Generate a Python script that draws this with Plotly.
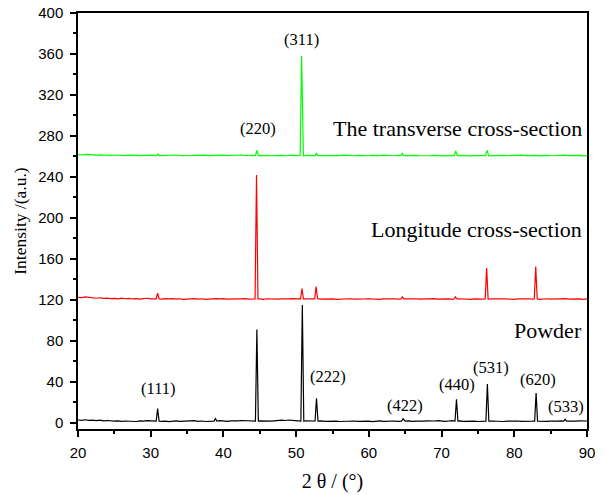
import plotly.graph_objects as go

# ---- data ----
two_theta = [20.0, 20.5, 21.0, 21.5, 22.0, 22.5, 23.0, 23.5, 24.0, 24.5,
             25.0, 25.5, 26.0, 26.5, 27.0, 27.5, 28.0, 28.5, 29.0, 29.5,
             30.0, 30.5, 31.0, 31.5, 32.0, 32.5, 33.0, 33.5, 34.0, 34.5,
             35.0, 35.5, 36.0, 36.5, 37.0, 37.5, 38.0, 38.5, 39.0, 39.5,
             40.0, 40.5, 41.0, 41.5, 42.0, 42.5, 43.0, 43.5, 44.0, 44.5,
             45.0, 45.5, 46.0, 46.5, 47.0, 47.5, 48.0, 48.5, 49.0, 49.5,
             50.0, 50.5, 51.0, 51.5, 52.0, 52.5, 53.0, 53.5, 54.0, 54.5,
             55.0, 55.5, 56.0, 56.5, 57.0, 57.5, 58.0, 58.5, 59.0, 59.5,
             60.0, 60.5, 61.0, 61.5, 62.0, 62.5, 63.0, 63.5, 64.0, 64.5,
             65.0, 65.5, 66.0, 66.5, 67.0, 67.5, 68.0, 68.5, 69.0, 69.5,
             70.0, 70.5, 71.0, 71.5, 72.0, 72.5, 73.0, 73.5, 74.0, 74.5,
             75.0, 75.5, 76.0, 76.5, 77.0, 77.5, 78.0, 78.5, 79.0, 79.5,
             80.0, 80.5, 81.0, 81.5, 82.0, 82.5, 83.0, 83.5, 84.0, 84.5,
             85.0, 85.5, 86.0, 86.5, 87.0, 87.5, 88.0, 88.5, 89.0, 89.5,
             90.0]

powder_bg = [2.8, 2.5, 3.0, 2.4, 2.7, 2.2, 2.6, 2.0, 2.3, 1.9,
             1.6, 2.0, 1.4, 1.8, 1.5, 1.7, 1.3, 1.9, 1.6, 2.2,
             1.8, 1.5, 1.9, 1.4, 1.7, 1.2, 1.6, 1.9, 1.5, 1.8,
             1.4, 1.7, 2.1, 1.5, 1.8, 1.3, 1.6, 2.0, 2.4, 2.2,
             1.8, 1.5, 1.9, 1.6, 2.0, 2.3, 2.1, 2.6, 2.2, 2.5,
             2.0, 1.8, 2.2, 1.7, 2.0, 2.4, 2.6, 2.3, 2.8, 2.4,
             2.2, 2.0, 2.5, 1.9, 2.2, 1.8, 1.6, 2.0, 1.5, 1.8,
             1.4, 1.7, 1.3, 1.6, 1.2, 1.5, 1.8, 1.4, 1.7, 1.3,
             1.6, 1.2, 1.5, 1.9, 1.4, 1.7, 1.3, 1.8, 1.5, 2.0,
             1.6, 1.9, 1.4, 1.7, 1.3, 1.6, 1.9, 1.5, 1.8, 2.1,
             1.7, 1.4, 1.8, 2.2, 1.6, 1.9, 1.5, 1.8, 1.4, 1.7,
             1.3, 1.6, 1.9, 1.5, 1.8, 1.4, 1.7, 1.3, 1.6, 1.9,
             1.5, 1.8, 1.4, 1.7, 2.0, 1.6, 1.9, 1.5, 1.8, 1.4,
             1.7, 1.3, 1.6, 1.9, 1.5, 1.8, 1.4, 1.7, 2.0, 1.6,
             1.8]

longitude_bg = [122.6, 122.2, 122.9, 122.3, 122.0, 121.6, 122.1, 121.4, 121.8, 121.2,
                121.5, 121.0, 121.7, 121.1, 121.4, 120.9, 121.3, 120.8, 121.2, 121.6,
                121.0, 121.4, 121.1, 120.7, 121.2, 120.9, 121.3, 120.8, 121.1, 120.6,
                121.0, 120.7, 121.2, 120.8, 121.1, 120.6, 121.0, 120.7, 121.2, 120.9,
                121.3, 120.8, 121.1, 120.7, 121.0, 120.9, 121.3, 120.8, 121.2, 120.7,
                121.0, 120.6, 121.1, 120.8, 121.2, 120.7, 121.0, 120.6, 120.9, 121.2,
                120.8, 121.1, 120.7, 121.0, 120.6, 120.9, 121.2, 120.8, 121.1, 120.7,
                121.0, 120.6, 120.9, 121.2, 120.8, 121.1, 120.7, 121.0, 120.6, 120.9,
                121.1, 120.7, 121.0, 120.6, 120.9, 121.2, 120.8, 121.1, 120.7, 121.3,
                120.9, 121.2, 120.8, 121.1, 120.7, 121.0, 120.6, 120.9, 121.2, 120.8,
                121.1, 120.7, 121.0, 120.6, 120.9, 121.1, 120.7, 121.0, 120.6, 120.9,
                121.2, 120.8, 121.1, 120.7, 121.0, 120.6, 120.9, 121.1, 120.7, 121.0,
                120.6, 120.9, 121.2, 120.8, 121.1, 120.7, 121.0, 120.6, 120.9, 121.1,
                120.7, 121.0, 120.6, 120.9, 121.2, 120.8, 121.1, 120.7, 121.0, 120.6,
                120.9]

transverse_bg = [261.8, 261.4, 262.0, 261.5, 261.7, 261.2, 261.6, 261.3, 261.5, 261.1,
                 261.4, 261.0, 261.3, 260.9, 261.2, 261.5, 261.1, 260.8, 261.2, 260.9,
                 261.3, 261.0, 261.4, 260.9, 261.2, 260.8, 261.1, 261.4, 261.0, 260.8,
                 261.1, 260.7, 261.0, 261.3, 260.9, 261.2, 260.8, 261.1, 260.7, 261.0,
                 261.3, 260.9, 261.2, 260.8, 261.1, 261.4, 261.0, 260.8, 261.1, 260.7,
                 261.0, 261.3, 260.9, 260.7, 261.0, 260.8, 261.1, 260.7, 261.0, 261.2,
                 260.8, 261.1, 260.7, 261.0, 260.6, 260.9, 261.2, 260.8, 261.1, 260.7,
                 261.0, 260.6, 260.9, 261.2, 260.8, 261.1, 260.7, 261.0, 260.8, 261.1,
                 260.7, 261.0, 260.6, 260.9, 261.2, 260.8, 261.1, 260.7, 261.0, 260.6,
                 260.9, 261.2, 260.8, 261.1, 260.7, 261.0, 260.6, 260.9, 261.1, 260.7,
                 261.0, 260.6, 260.9, 261.2, 260.8, 261.1, 260.7, 261.0, 260.6, 260.9,
                 261.1, 260.7, 261.0, 260.6, 260.9, 261.2, 260.8, 261.1, 260.7, 261.0,
                 260.6, 260.9, 261.2, 260.8, 261.1, 260.7, 261.0, 260.6, 260.9, 261.1,
                 260.7, 261.0, 260.6, 260.9, 261.2, 260.8, 261.1, 260.7, 261.0, 260.6,
                 260.9]

# peak positions (2theta) and apex intensities
powder_peak_pos = [30.95, 38.9, 44.6, 50.85, 52.8, 64.7, 72.05, 76.3, 83.0, 87.0]
powder_peak_int = [14.0, 4.0, 91.0, 115.0, 24.0, 4.0, 23.0, 38.0, 29.0, 3.5]
powder_base = 1.7

longitude_peak_pos = [30.95, 44.55, 50.8, 52.75, 64.6, 71.9, 76.2, 82.95]
longitude_peak_int = [126.5, 242.0, 131.0, 133.0, 123.0, 123.0, 151.0, 152.5]
longitude_base = 120.9

transverse_peak_pos = [31.0, 44.6, 50.75, 52.8, 64.6, 71.95, 76.25]
transverse_peak_int = [262.5, 266.0, 358.0, 263.0, 263.0, 265.5, 266.0]
transverse_base = 260.9

# hkl labels: text, 2theta, intensity
hkl_text = ["(111)", "(222)", "(422)", "(440)", "(531)", "(620)", "(533)", "(220)", "(311)"]
hkl_x = [31.1, 54.4, 65.0, 72.1, 76.8, 83.2, 87.1, 44.7, 50.7]
hkl_y = [33.5, 45.0, 16.5, 37.5, 54.0, 42.0, 16.3, 287.0, 374.5]

series_names = ["Powder", "Longitude cross-section", "The transverse cross-section"]
series_label_y = [90.5, 189.0, 287.0]
series_colors = ["#000000", "#ff0000", "#00ff00"]

x_ticks = [20, 30, 40, 50, 60, 70, 80, 90]
y_ticks = [0, 40, 80, 120, 160, 200, 240, 280, 320, 360, 400]

HALF_WIDTH = 0.2


def build(bg, pos, inten, base):
    pts = [(x, y) for x, y in zip(two_theta, bg)
           if all(abs(x - p) > HALF_WIDTH + 0.02 for p in pos)]
    for p, h in zip(pos, inten):
        pts += [(p - HALF_WIDTH, base), (p, h), (p + HALF_WIDTH, base)]
    pts.sort()
    return [a for a, _ in pts], [b for _, b in pts]


fig = go.Figure()
for bg, pos, inten, base, name, col in [
    (powder_bg, powder_peak_pos, powder_peak_int, powder_base, series_names[0], series_colors[0]),
    (longitude_bg, longitude_peak_pos, longitude_peak_int, longitude_base, series_names[1], series_colors[1]),
    (transverse_bg, transverse_peak_pos, transverse_peak_int, transverse_base, series_names[2], series_colors[2]),
]:
    xs, ys = build(bg, pos, inten, base)
    fig.add_trace(go.Scatter(x=xs, y=ys, mode="lines", name=name,
                             line=dict(color=col, width=1.2), showlegend=False))

serif = "Liberation Serif, Times New Roman, serif"
for t, x, y in zip(hkl_text, hkl_x, hkl_y):
    fig.add_annotation(x=x, y=y, text=t, showarrow=False, xanchor="center", yanchor="middle",
                       font=dict(family=serif, size=16.5, color="#000"))
for t, y in zip(series_names, series_label_y):
    fig.add_annotation(x=89.6, y=y, text=t, showarrow=False, xanchor="right", yanchor="middle",
                       font=dict(family=serif, size=22, color="#000"))

axis_common = dict(showline=True, linecolor="#000", linewidth=1.5, mirror=True,
                   ticks="outside", tickcolor="#000", tickwidth=1.5, ticklen=6,
                   showgrid=False, zeroline=False, automargin=False,
                   tickfont=dict(family="Liberation Sans, Arial, sans-serif", size=15, color="#000"))

fig.update_xaxes(range=[20, 90], tickvals=x_ticks, ticklabelstandoff=3,
                 minor=dict(dtick=5, ticks="outside", ticklen=3, tickcolor="#000", tickwidth=1.5),
                 title=dict(text="2 θ / (°)", font=dict(family=serif, size=20, color="#000"), standoff=14),
                 **axis_common)
fig.update_yaxes(range=[-6, 400], tickvals=y_ticks, ticklabelstandoff=4,
                 minor=dict(dtick=20, ticks="outside", ticklen=3, tickcolor="#000", tickwidth=1.5),
                 title=dict(text="Intensity /(a.u.)", font=dict(family=serif, size=17.5, color="#000"), standoff=7),
                 **axis_common)

fig.update_layout(width=604, height=495, margin=dict(l=78, r=17, t=12.5, b=66),
                  paper_bgcolor="white", plot_bgcolor="white")

# remove the browser's default 8px body margin so the figure sits at the page origin
fig.write_html("out.html", config={"displayModeBar": False},
               post_script="document.body.style.margin='0';document.body.style.overflow='hidden';")
